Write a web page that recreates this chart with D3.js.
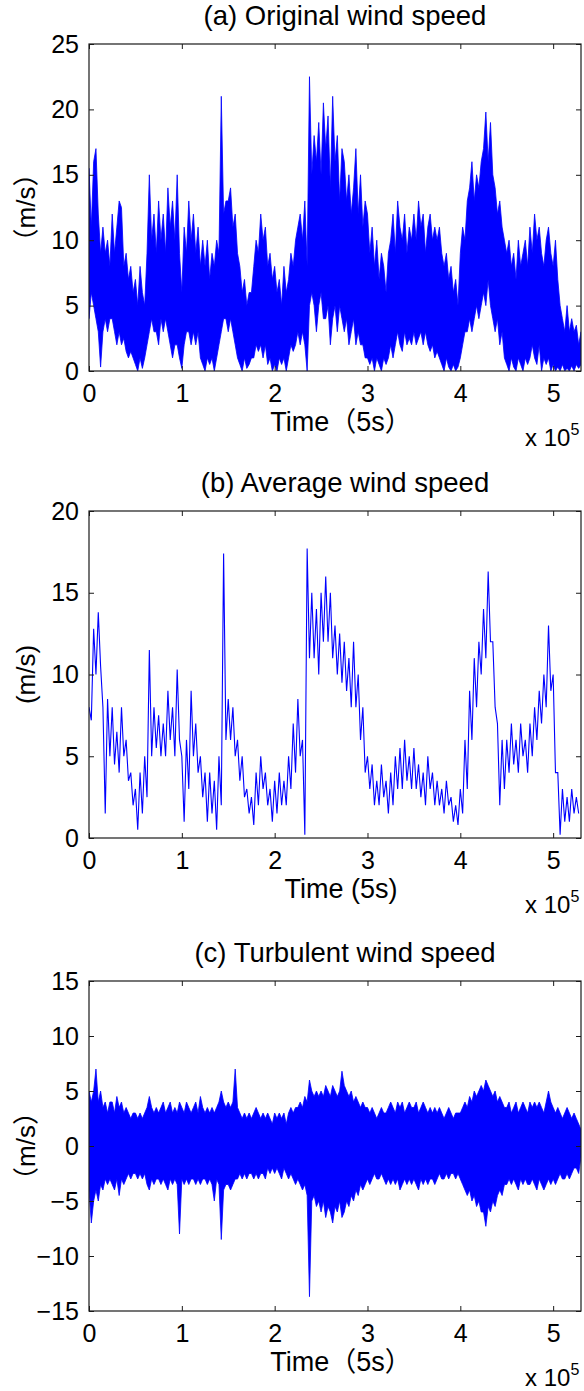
<!DOCTYPE html>
<html><head><meta charset="utf-8">
<script src="https://cdn.jsdelivr.net/npm/d3@7"></script>
<style>
body{margin:0;background:#fff}
svg{display:block}
text{font-family:"Liberation Sans",Arial,"Noto Sans CJK SC",sans-serif;fill:#000}
</style>
</head><body>
<svg id="chart" width="584" height="1391"></svg>
<script>
// ---- data ----
const xMax = 530000;
const xTickValues = [0, 1, 2, 3, 4, 5];   // in units of 1e5
const xExponent = 5;

// (a) and (c): per-column envelope (local high / local low) every 2500 samples
const bandStep = 2500;
const origHigh = [15.5,11,16,17,12,9,11,9,10,8, 12,9,11,13,12.5,8,9,7,8,6, 7,5,8,6,5,9,15,10,12,9, 13,10,12,9,14,11,13,10,15,9,
  6,11,9,13,10,12,9,11,8,10, 8,10,7,9,8,10,9,21,12,13, 13,14,11,12,9,8,6,7,5,6, 6,8,10,9,12,10,11,8,9,7,
  8,6,7,5,8,6,7,9,8,10, 11,12,10,13,8,22.5,15,18,16,19, 15,20.5,17,19.5,14,21,16,18,13,17, 16,13,15,12,14,17,12,15,11,13,
  12,9,11,8,10,7,9,8,6,9, 10,12,9,13,11,10,12,9,11,10, 12,10,13,11,12,9,11,12,10,11, 10,11,9,8,9,7,8,6,7,5,
  9,11,10,13,14,16,13,15,14,16, 17,19.8,16,19,15,14,12,13,11,10, 9,10,8,9,7,10,8,9,10,8, 11,9,12,10,11,9,8,10,11,9,
  8,10,7,5,4,3,5,3,4,3, 3.5,2,3];
const origLow = [4,6,5,4,3,0.3,3,4,3,4, 4,3,2,3,2,2.5,1.5,1,1.5,1, 0.5,0,1,0.2,1,2,3,4,3,3, 2,4,3,4,3,2,1,2,2,1,
  0.2,2,3,3,2,3,2,3,1,0.5, 0,1,0.5,1,0,1,2,3,4,4, 3,4,3,2,1,0.5,0,1,0.2,0.5, 1,1,2,1.5,2,1,2,0.5,1,0,
  0.5,0,1,0.5,1,0,1,2,1.5,2, 3,2,3,2,0,5,6,5,3,5, 6,4,4,5,2,4,5,3,5,4, 3,4,2,3,4,2,3,2,2,1,
  1,0.5,1,0,1,0.5,0,1,0.5,1, 2,1,2,3,2,1.5,3,2,2.5,2, 3,2,2.5,3,2,3,2,1.5,2,1, 1.5,1,0.5,0,1,0.3,0,0.5,0,0.3,
  1,2,3,3,4,3,4,5,4,5, 6,5,7,5,4,3,4,2,3,1, 0.5,0,1,0.3,0,1,0.5,0,1,0.5, 1,2,1,0.5,2,0,1,0.5,1,0,
  0.5,0,0.3,0,0.5,0,0.2,0,0.4,0, 0.5,0.2,0.5];

const turbHigh = [5,4,5,7,4,5,3.5,4,3,4, 4,3,4.5,3.5,4,3,3.5,3,2.5,3, 3,2.5,3,2.5,3,3.5,4.5,3.5,3,3.5, 3,3.5,4,3,3.5,4,3,3.5,3,4,
  3.5,3,4,3.5,3,3.5,4,3,4.5,3.5, 3,3.5,3,3.5,3,3.5,4,5,4,3.5, 4,3.5,4,7,3.5,3,2.5,3,2.5,3, 2.5,3,3.5,3,2.5,3,2.5,3,2.5,2,
  3,2.5,3,2.5,3,2,3,3.5,3,3.5, 3.5,4,3.5,4.5,4,6,5,4.5,5,4.5, 5,4.5,5.5,5,4.5,5.5,5,4.5,5,6.8, 5.5,5,4.5,5,4,4.5,4,3.5,4,3.5,
  3.5,3,3.5,3,2.5,3,3.5,3,3,3.5, 4,3.5,3,4,3.5,4,3,3.5,4,3.5, 3.5,4,3,3.5,4,3.5,3,3.5,3,3.5, 3,3.5,3,2.5,3,3.5,3,2.5,3,3,
  3,3.5,4,3.5,4.5,4,5,4.5,5,5.5, 5,6,5.5,5,4.5,5,4,4.5,4,3.5, 3.5,4,3,3.5,4,3,3.5,4,3.5,3, 4,3.5,4,3.5,4,3.5,3,4,5,4,
  3.5,3,3.5,3,2.5,3,3.5,3,2.5,3, 2.5,2,1.5];
const turbLow = [-4,-7,-5,-4,-5,-3.5,-4,-3,-3.5,-3, -3.5,-4,-3,-4.5,-3,-3.5,-3,-2.5,-3,-2.5, -2.5,-3,-2.5,-3,-2.5,-3.5,-4,-3,-3.5,-3, -3,-3.5,-3,-3.5,-4,-3,-3.5,-3,-3.5,-8,
  -3,-3.5,-3,-3.5,-3,-3,-3.5,-3,-3.5,-3, -3,-3.5,-3,-3.5,-5,-3,-3.5,-8.5,-4,-3.5, -3.5,-4,-3.5,-3,-3,-2.5,-3,-2.5,-3,-2.5, -2.5,-3,-2.5,-3,-2.5,-2.5,-3,-2,-2.5,-2,
  -2.5,-2,-2.5,-3,-2,-2.5,-3,-2.5,-3,-3.5, -3,-3.5,-4,-3.5,-4.5,-13.7,-5,-4.5,-5.5,-5, -6,-5,-6.5,-5.5,-6,-7,-5.5,-6,-5,-6.5, -6,-5,-5.5,-4.5,-5,-4,-4.5,-3.5,-4,-3.5,
  -3,-3.5,-3,-2.5,-3,-3,-2.5,-3,-3.5,-3, -3.5,-3,-3.5,-3,-4,-3.5,-3,-3.5,-3,-3.5, -3,-3.5,-4,-3,-3.5,-3,-3.5,-3,-3,-3.5, -3,-2.5,-3,-3,-2.5,-3,-2.5,-2.5,-3,-2.5,
  -3,-3.5,-4,-4.5,-4,-5,-4.5,-5.5,-5,-6, -6,-7.3,-5.5,-6,-5,-5.5,-4.5,-4,-4.5,-3.5, -3.5,-3,-3.5,-3,-3.5,-4,-3,-3.5,-3,-3.5, -3.5,-3,-3.5,-4,-3,-3.5,-4,-3.5,-3,-3.5,
  -3,-3.5,-3,-2.5,-3,-3,-2.5,-3,-2.5,-2, -2,-2.5,-1];

// (b): a line, local high then local low every 5000 samples
const lineStep = 5000;
const avgHigh = [8,12.8,13.8,8,8.5,8,6.5,8,6,4,3,4,5,11.5,8,7.5,7,9,8,10.3,5,6,9,7,5,4,4,3.5,5,17.4,8.5,8,6,5,3,2.5,4,5,4,3,3.5,4,3.5,5,7,8.5,6,17.7,15,14,15,16,15,13,12.5,12,11,12,10,8,5,4.5,3.5,4.5,3.5,4,5,5.5,6,5,5.5,4.5,4,5,4,3.5,3,3.5,2.5,2,3,6,9,11,12,14,16.3,12,7,6,6,7,6,7,6,7,8,9,10,13,10,4,3,2.5,3,2.5];
const avgLow  = [7.2,10,10.5,1.5,5,4.5,4,5,3.5,2,0.5,1.5,2.5,5,5.5,5,5,6,5,6,1,3,5,4,2.5,1,1.5,0.5,2,6,6,5,3.5,2.5,1.5,0.8,2,3,2,1,1.5,2,2,3,4,5,0.2,11,11,10,12,12,11,10,9.5,9,8,8,6,4,3,2,2,2.5,1.5,2,3,3,3.5,3,3,2.5,2,3,2,2,1.5,2,1,0.8,1.5,3,6,8,10,11,12,8,2,3,4,4.5,4,5,4,5,6,7,8,9,4,0.2,1,1,1.5,1.5];

const yTicksA = [0, 5, 10, 15, 20, 25];
const yTicksB = [0, 5, 10, 15, 20];
const yTicksC = [-15, -10, -5, 0, 5, 10, 15];

const panels = [
  {title: "(a) Original wind speed", mode: "band", high: origHigh, low: origLow, step: bandStep,
   yDomain: [0, 25], yTicks: yTicksA, xLabel: "Time（5s）", yLabel: "（m/s）", top: 44, bottom: 371},
  {title: "(b) Average wind speed", mode: "line", high: avgHigh, low: avgLow, step: lineStep,
   yDomain: [0, 20], yTicks: yTicksB, xLabel: "Time (5s)", yLabel: "(m/s)", top: 511, bottom: 838},
  {title: "(c) Turbulent wind speed", mode: "band", high: turbHigh, low: turbLow, step: bandStep,
   yDomain: [-15, 15], yTicks: yTicksC, xLabel: "Time（5s）", yLabel: "（m/s）", top: 981, bottom: 1311}
];

// ---- layout ----
const left = 89, right = 581;
const svg = d3.select("#chart");
const x = d3.scaleLinear().domain([0, xMax]).range([left, right]);
const axisColor = "#1a1a1a";
const blue = "#0000ff";

panels.forEach((p, i) => {
  const y = d3.scaleLinear().domain(p.yDomain).range([p.bottom, p.top]);
  const g = svg.append("g");
  const clipId = "clip" + i;
  svg.append("clipPath").attr("id", clipId).append("rect")
    .attr("x", left).attr("y", p.top).attr("width", right - left).attr("height", p.bottom - p.top);

  if (p.mode === "band") {
    const rows = p.high.map((h, k) => ({t: k * p.step, hi: h, lo: p.low[k]}));
    const area = d3.area().x(d => x(d.t)).y0(d => y(d.lo)).y1(d => y(d.hi));
    g.append("path").datum(rows).attr("d", area)
      .attr("fill", blue).attr("stroke", blue).attr("stroke-width", 0.8)
      .attr("clip-path", `url(#${clipId})`);
  } else {
    const pts = [];
    p.high.forEach((h, k) => {
      pts.push([k * p.step, h]);
      pts.push([k * p.step + p.step / 2, p.low[k]]);
    });
    const line = d3.line().x(d => x(d[0])).y(d => y(d[1]));
    g.append("path").datum(pts).attr("d", line)
      .attr("fill", "none").attr("stroke", blue).attr("stroke-width", 1.1)
      .attr("clip-path", `url(#${clipId})`);
  }

  // axes (inward ticks on all four sides, box)
  const xt = xTickValues.map(v => v * Math.pow(10, xExponent));
  const bottomAxis = d3.axisBottom(x).tickValues(xt).tickSize(-5).tickPadding(13)
    .tickFormat(d => d / Math.pow(10, xExponent));
  const topAxis = d3.axisTop(x).tickValues(xt).tickSize(-5).tickFormat("");
  const leftAxis = d3.axisLeft(y).tickValues(p.yTicks).tickSize(-5).tickPadding(10);
  const rightAxis = d3.axisRight(y).tickValues(p.yTicks).tickSize(-5).tickFormat("");

  const styleAxis = sel => {
    sel.select(".domain").remove();
    sel.selectAll("line").attr("stroke", axisColor);
    sel.selectAll("text").attr("font-size", 25).attr("font-family", null).attr("fill", "#000");
  };
  g.append("g").attr("transform", `translate(0,${p.bottom})`).call(bottomAxis).call(styleAxis);
  g.append("g").attr("transform", `translate(0,${p.top})`).call(topAxis).call(styleAxis);
  g.append("g").attr("transform", `translate(${left},0)`).call(leftAxis).call(styleAxis);
  g.append("g").attr("transform", `translate(${right},0)`).call(rightAxis).call(styleAxis);

  g.append("rect").attr("x", left).attr("y", p.top).attr("width", right - left).attr("height", p.bottom - p.top)
    .attr("fill", "none").attr("stroke", axisColor).attr("stroke-width", 1.2);

  // title
  g.append("text").attr("x", 345).attr("y", p.top - 19).attr("text-anchor", "middle")
    .attr("font-size", 27.5).text(p.title);
  // x label
  g.append("text").attr("x", 341).attr("y", p.bottom + 60).attr("text-anchor", "middle")
    .attr("font-size", 27).text(p.xLabel);
  // exponent
  const ex = g.append("text").attr("x", 525).attr("y", p.bottom + 75).attr("font-size", 24);
  ex.append("tspan").text("x 10");
  ex.append("tspan").attr("font-size", 16).attr("dy", -11).text(xExponent);
  // y label
  g.append("text").attr("transform", `translate(35,${(p.top + p.bottom) / 2}) rotate(-90)`)
    .attr("text-anchor", "middle").attr("font-size", 26).text(p.yLabel);
});
</script>
</body></html>
